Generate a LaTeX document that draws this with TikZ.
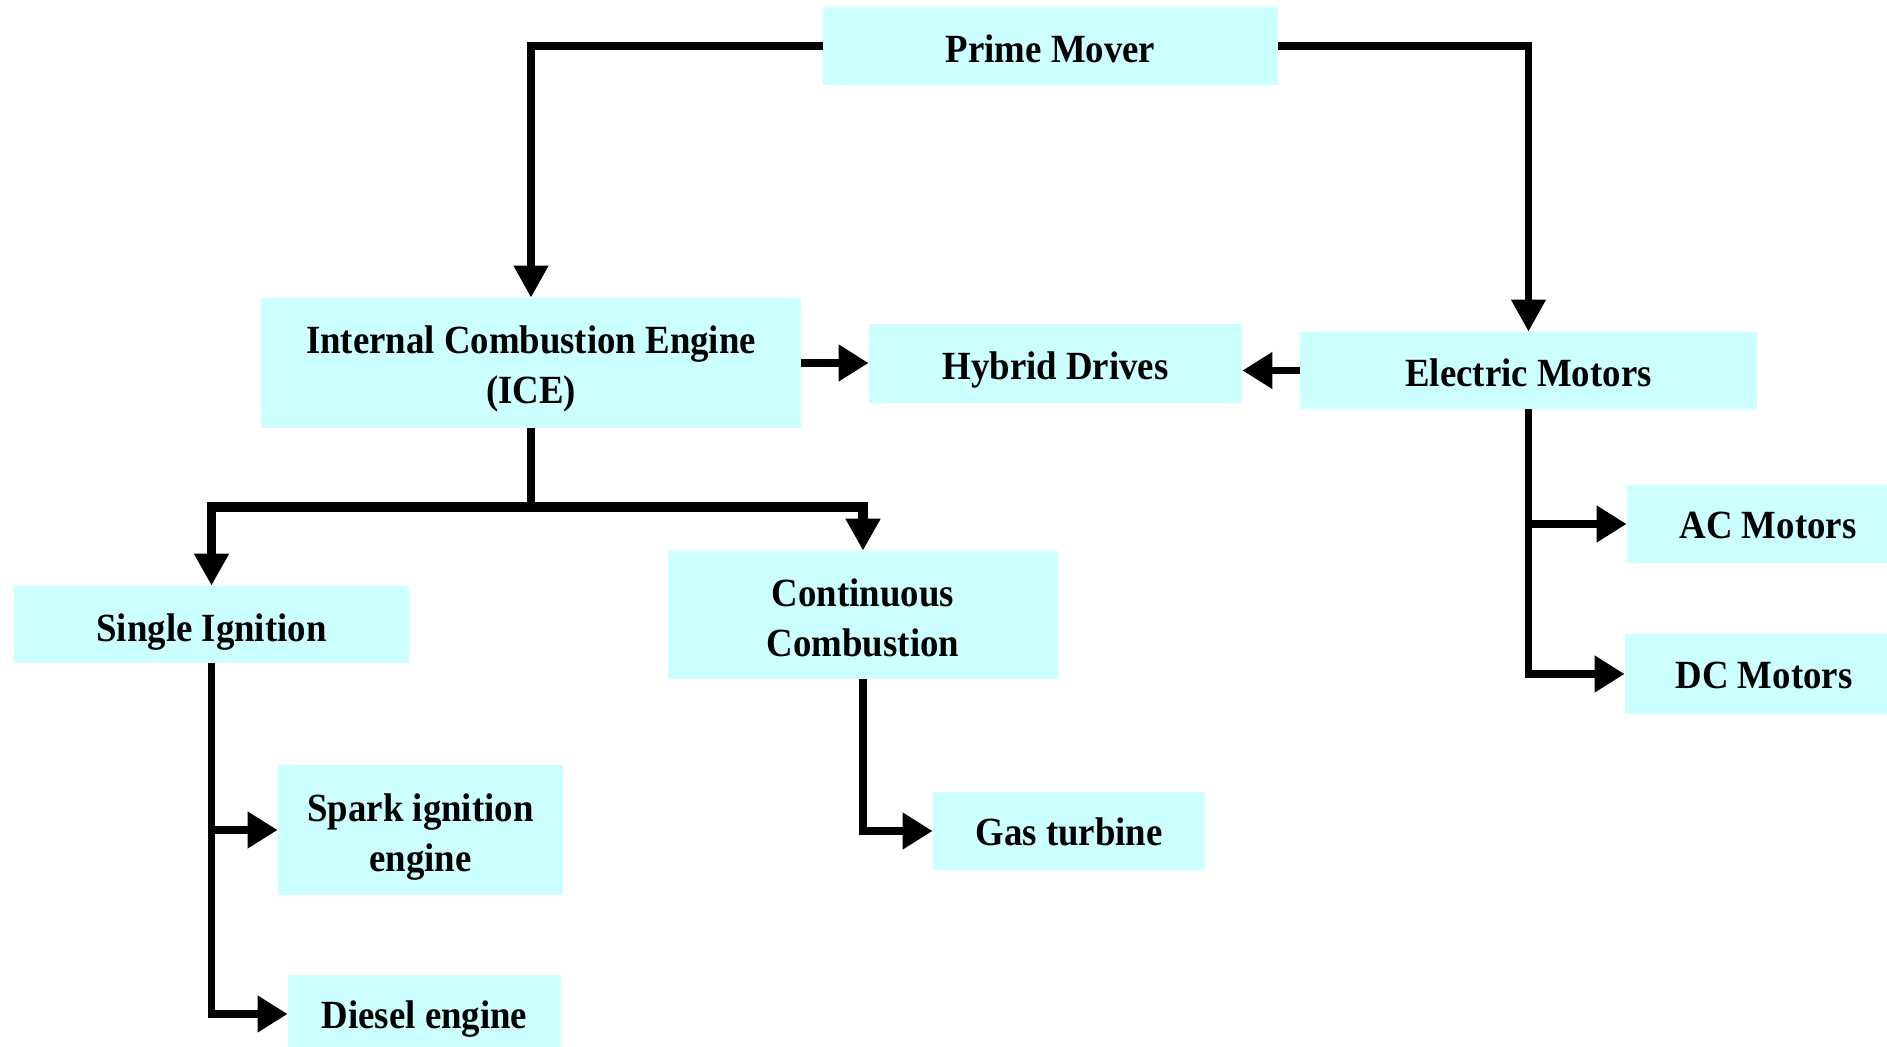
\documentclass[tikz,border=0pt]{standalone}
\usepackage{fontspec}
\setmainfont{Liberation Serif}[FakeStretch=0.92]
\usetikzlibrary{arrows.meta}
\definecolor{boxcyan}{RGB}{204,255,255}
\begin{document}
\begin{tikzpicture}[x=0.5pt,y=-0.5pt,
  box/.style={fill=boxcyan,draw=none,inner sep=0pt},
  txt/.style={align=center,inner sep=0pt,yshift=-#1,
    font=\fontsize{20}{25}\selectfont\bfseries},
  txt/.default=2pt,
  link/.style={line width=3.7pt,draw=black,line join=miter},
  vtip/.style={link,-{Triangle[length=16pt,width=16.5pt]}},
  htip/.style={link,-{Triangle[length=15pt,width=17.5pt]}}]
\clip (0,0) rectangle (1887,1047);

% boxes, each with its caption set slightly below the centre
\node[box,minimum width=227.5pt,minimum height=39pt,
  label={[txt=1.2pt]center:Prime Mover}] (pm) at (1050.5,46) {};
\node[box,minimum width=270pt,minimum height=65pt,
  label={[txt=3pt]center:{Internal Combustion Engine\\(ICE)}}] (ice) at (531,363) {};
\node[box,minimum width=186.5pt,minimum height=39.5pt,
  label={[txt=3pt]center:Hybrid Drives}] (hyb) at (1055.5,363.5) {};
\node[box,minimum width=228.5pt,minimum height=38.5pt,
  label={[txt=1.2pt]center:Electric Motors}] (em) at (1528.5,370.5) {};
\node[box,minimum width=141pt,minimum height=39pt,
  label={[txt=0.6pt]center:AC Motors}] (ac) at (1768,524) {};
\node[box,minimum width=139pt,minimum height=40pt,
  label={[txt=0.6pt]center:DC Motors}] (dc) at (1764,674) {};
\node[box,minimum width=197.5pt,minimum height=38.5pt,
  label={[txt=4pt]center:Single Ignition}] (si) at (211.5,624.5) {};
\node[box,minimum width=195pt,minimum height=64pt,
  label={[txt=1.5pt]center:{Continuous\\Combustion}}] (cc) at (863,615) {};
\node[box,minimum width=142.5pt,minimum height=65pt,
  label={[txt=3.6pt]center:{Spark ignition\\engine}}] (sp) at (420.5,830) {};
\node[box,minimum width=136pt,minimum height=39pt,
  label={[txt=0.6pt]center:Gas turbine}] (gt) at (1069,831) {};
\node[box,minimum width=136.5pt,minimum height=39pt,
  label={[txt=2.4pt]center:Diesel engine}] (de) at (424.5,1014) {};

% connectors
\coordinate (bar) at (0,507);
\draw[vtip] (pm.west) -| (ice.north);
\draw[vtip] (pm.east) -| (em.north);
\draw[htip] (ice.east) -- (ice.east -| hyb.west);
\draw[htip] (em.west) -- (em.west -| hyb.east);
\draw[link] (ice.south) -- (ice.south |- bar);
\draw[vtip,line width=4.8pt] (ice.south |- bar) -| (si.north);
\draw[vtip,line width=4.8pt] (ice.south |- bar) -| (cc.north);
\draw[htip] (em.south) |- (ac.west);
\draw[htip] (em.south) |- (dc.west);
\draw[htip] (si.south) |- (sp.west);
\draw[htip] (si.south) |- (de.west);
\draw[htip] (cc.south) |- (gt.west);
\end{tikzpicture}
\end{document}
